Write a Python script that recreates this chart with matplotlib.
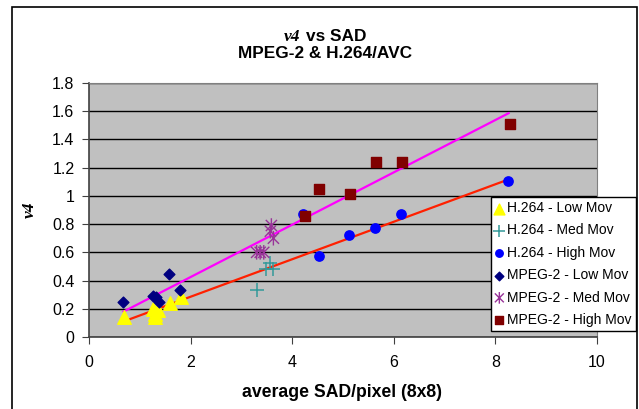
import numpy as np
import matplotlib
matplotlib.use("Agg")
import matplotlib.pyplot as plt
from matplotlib.path import Path
from matplotlib.patches import Rectangle

plt.rcParams['font.family'] = ['Liberation Sans', 'DejaVu Sans']

# data
h264_low_x = [0.68, 1.25, 1.30, 1.35, 1.60, 1.82, 1.30]
h264_low_y = [0.14, 0.20, 0.14, 0.19, 0.24, 0.28, 0.16]
h264_med_x = [3.31, 3.48, 3.57, 3.63]
h264_med_y = [0.33, 0.48, 0.525, 0.48]
h264_high_x = [4.22, 4.52, 5.12, 5.63, 6.14, 8.24]
h264_high_y = [0.87, 0.575, 0.72, 0.77, 0.87, 1.105]
mpeg2_low_x = [0.66, 1.25, 1.31, 1.37, 1.58, 1.80]
mpeg2_low_y = [0.25, 0.29, 0.28, 0.25, 0.445, 0.33]
mpeg2_med_x = [3.30, 3.44, 3.59, 3.57, 3.63, 3.37]
mpeg2_med_y = [0.60, 0.60, 0.79, 0.75, 0.70, 0.60]
mpeg2_high_x = [4.25, 4.53, 5.14, 5.65, 6.16, 8.28]
mpeg2_high_y = [0.86, 1.05, 1.015, 1.24, 1.24, 1.51]

# trendlines (end points)
h264_trend_x = [0.68, 8.17]
h264_trend_y = [0.11, 1.105]
mpeg2_trend_x = [0.68, 8.26]
mpeg2_trend_y = [0.18, 1.586]

# star marker: x with a vertical bar
star = Path([(-1, -1), (1, 1), (-1, 1), (1, -1), (0, -1.3), (0, 1.3)],
            [Path.MOVETO, Path.LINETO, Path.MOVETO, Path.LINETO, Path.MOVETO, Path.LINETO])

fig = plt.figure(figsize=(6.39, 4.09), dpi=100)
fig.patches.append(Rectangle((12/639, -0.02), 625/639, 1.02 - 7/409, transform=fig.transFigure,
                             fill=False, edgecolor='black', lw=1.2))
ax = fig.add_axes([89/639, 1 - 337/409, 508/639, 254/409])
ax.set_facecolor('#C0C0C0')

ax.plot(h264_trend_x, h264_trend_y, color='#FF2000', lw=1.6, zorder=2)
ax.plot(mpeg2_trend_x, mpeg2_trend_y, color='#FF00FF', lw=1.6, zorder=2)

s1 = ax.scatter(h264_low_x, h264_low_y, marker='^', s=95, color='#FFFF00', zorder=3, label='H.264 - Low Mov')
s2 = ax.scatter(h264_med_x, h264_med_y, marker='+', s=100, color='#339999', linewidths=1.1, zorder=3, label='H.264 - Med Mov')
s3 = ax.scatter(h264_high_x, h264_high_y, marker='o', s=45, color='#0000FF', zorder=3, label='H.264 - High Mov')
s4 = ax.scatter(mpeg2_low_x, mpeg2_low_y, marker='D', s=30, color='#000080', zorder=3, label='MPEG-2 - Low Mov')
s5 = ax.scatter(mpeg2_med_x, mpeg2_med_y, marker=star, s=110, facecolor='none', edgecolors='#993399', linewidths=1.0, zorder=3, label='MPEG-2 - Med Mov')
s6 = ax.scatter(mpeg2_high_x, mpeg2_high_y, marker='s', s=45, color='#800000', zorder=3, label='MPEG-2 - High Mov')

ax.set_xlim(0, 10)
ax.set_ylim(0, 1.8)
ax.set_xticks(np.arange(0, 11, 2))
ax.set_yticks(np.arange(0, 1.81, 0.2))
ax.set_yticklabels(['0', '0.2', '0.4', '0.6', '0.8', '1', '1.2', '1.4', '1.6', '1.8'])
ax.yaxis.grid(True, color='black', lw=1.0)
ax.set_axisbelow(True)
ax.tick_params(labelsize=11.5, length=5, color='#404040')
ax.tick_params(axis='x', pad=8)
ax.tick_params(axis='y', pad=5.5)
for side in ['top', 'right']:
    ax.spines[side].set_color('#808080')
for side in ['left', 'bottom']:
    ax.spines[side].set_color('#404040')
    ax.spines[side].set_linewidth(1.2)

fig.text(300/639, 1 - 41/409, 'v4', fontsize=12.5, fontweight='bold', family='Liberation Serif',
         style='italic', ha='right', va='baseline')
fig.text(306/639, 1 - 41/409, 'vs SAD', fontsize=12.4, fontweight='bold', ha='left', va='baseline')
fig.text(325/639, 1 - 58/409, 'MPEG-2 & H.264/AVC', fontsize=12.4, fontweight='bold',
         ha='center', va='baseline')
fig.text(342/639, 1 - 397/409, 'average SAD/pixel (8x8)', fontsize=12.7, fontweight='bold',
         ha='center', va='baseline')
fig.text(30/639, 1 - 210/409, 'v4', fontsize=12.5, fontweight='bold', style='italic',
         family='Liberation Serif', rotation=90, ha='center', va='center')

leg = fig.legend(handles=[s1, s2, s3, s4, s5, s6], loc='upper left',
                 bbox_to_anchor=(491/639, 1 - 197/409), fontsize=10, frameon=True,
                 fancybox=False, edgecolor='black', framealpha=1, borderpad=0.3,
                 labelspacing=0.6, handlelength=0.6, handletextpad=0.25, borderaxespad=0,
                 markerscale=0.8)
leg.get_frame().set_linewidth(1.0)

fig.savefig('out.png', dpi=100)
